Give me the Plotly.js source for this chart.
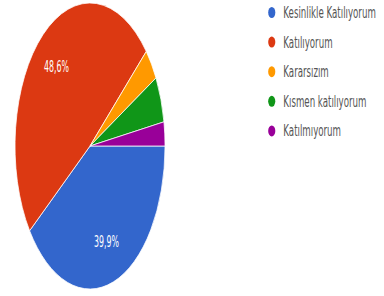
<!DOCTYPE html>
<html>
<head>
<meta charset="utf-8">
<script src="https://cdn.plot.ly/plotly-3.0.1.min.js"></script>
<style>
html,body{margin:0;padding:0;background:#fff;}
#wrap{width:384px;height:296px;overflow:hidden;position:relative;}
#chart{width:732px;height:296px;transform:scaleX(0.5246);transform-origin:0 0;}
</style>
</head>
<body>
<div id="wrap"><div id="chart"></div></div>
<script>
const categories = ["Kesinlikle Katılıyorum", "Katılıyorum", "Kararsızım", "Kısmen katılıyorum", "Katılmıyorum"];
const values = [39.9, 48.6, 3.6, 5.2, 2.7];
const colors = ["#3366cc", "#dc3912", "#ff9900", "#109618", "#990099"];

const W = 732, H = 296;
const CX = 171.6, CY = 146, R = 143;

const trace = {
  type: 'pie',
  labels: categories,
  values: values,
  sort: false,
  direction: 'clockwise',
  rotation: 90,
  textinfo: 'none',
  marker: {colors: colors, line: {color: '#ffffff', width: 1}},
  domain: {x: [(CX - R) / W, (CX + R) / W], y: [(H - CY - R) / H, (H - CY + R) / H]},
  hoverinfo: 'none',
  showlegend: false
};

const shapes = [], annotations = [];
categories.forEach((c, i) => {
  const yc = 1 - (12.5 + i * 29.6) / H;
  shapes.push({
    type: 'circle', xref: 'paper', yref: 'paper',
    xsizemode: 'pixel', ysizemode: 'pixel',
    xanchor: 518 / W, yanchor: yc,
    x0: -6.8, x1: 6.8, y0: -5.5, y1: 5.5,
    fillcolor: colors[i], line: {width: 0}
  });
  annotations.push({
    xref: 'paper', yref: 'paper', x: 538 / W, y: yc,
    xanchor: 'left', yanchor: 'middle', showarrow: false,
    text: c, font: {family: 'DejaVu Sans', size: 16.5, color: '#555555'}
  });
});

// slice percentage labels (large slices only), placed at each slice's mid-angle
const total = values.reduce((a, b) => a + b, 0);
let cum = 0;
values.forEach((v, i) => {
  const mid = (cum + v / 2) / total * 2 * Math.PI; // clockwise from 3 o'clock
  cum += v;
  if (v / total < 0.1) return;
  const px = CX + 0.71 * R * Math.cos(mid);
  const py = CY + 0.71 * R * Math.sin(mid);
  annotations.push({
    xref: 'paper', yref: 'paper', x: px / W, y: 1 - py / H,
    xanchor: 'center', yanchor: 'middle', showarrow: false,
    text: (v / total * 100).toFixed(1).replace('.', ',') + '%',
    font: {family: 'DejaVu Sans', size: 15, color: '#ffffff'}
  });
});

Plotly.newPlot('chart', [trace], {
  width: W, height: H,
  margin: {l: 0, r: 0, t: 0, b: 0},
  paper_bgcolor: '#ffffff',
  showlegend: false,
  shapes: shapes,
  annotations: annotations
}, {displayModeBar: false, staticPlot: true});
</script>
</body>
</html>
